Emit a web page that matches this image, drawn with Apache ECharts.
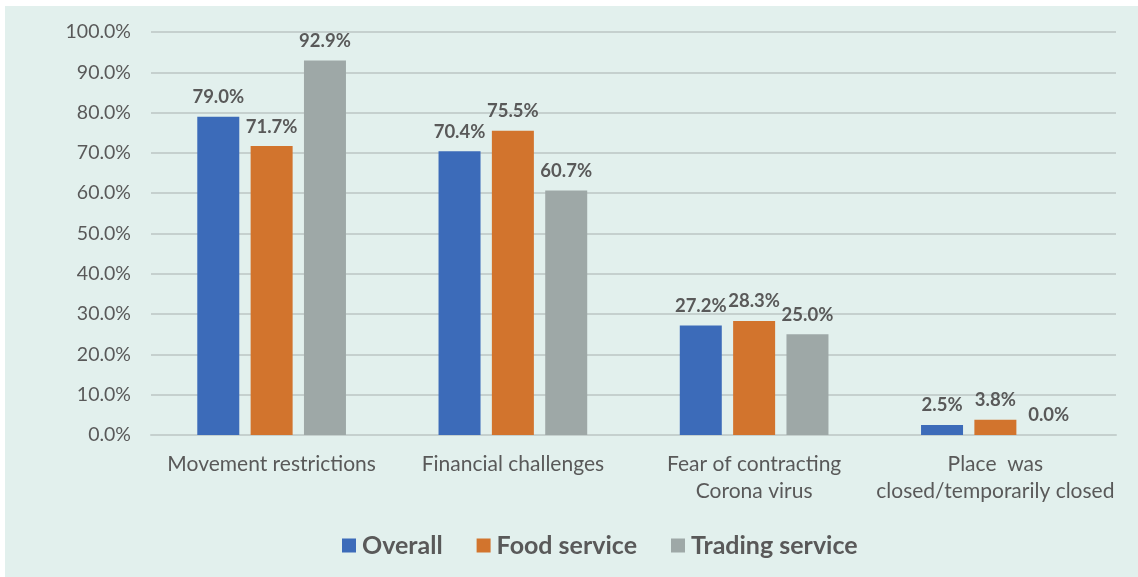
<!DOCTYPE html>
<html>
<head>
<meta charset="utf-8">
<script src="https://cdn.jsdelivr.net/npm/echarts@6/dist/echarts.min.js"></script>
<style>
  html, body { margin: 0; padding: 0; background: #ffffff; }
  #chart { position: absolute; left: 5px; top: 6px; width: 1133px; height: 571px; background: #e2f0ed; }
</style>
</head>
<body>
<div id="chart"></div>
<script>
const categories = [
  'Movement restrictions',
  'Financial challenges',
  'Fear of contracting\nCorona virus',
  'Place  was\nclosed/temporarily closed'
];
const overall = [79.0, 70.4, 27.2, 2.5];
const foodService = [71.7, 75.5, 28.3, 3.8];
const tradingService = [92.9, 60.7, 25.0, 0.0];
const seriesNames = ['Overall', 'Food service', 'Trading service'];
const colors = ['#3c6bb9', '#d2742d', '#9ea8a7'];

const font = 'Lato, "Noto Sans", sans-serif';
const textColor = '#595959';

const chart = echarts.init(document.getElementById('chart'));

function makeSeries(name, data, color) {
  return {
    name: name,
    type: 'bar',
    data: data,
    barWidth: 42,
    barGap: '27%',
    itemStyle: { color: color },
    label: {
      show: true,
      position: 'top',
      distance: 10,
      formatter: (p) => p.value.toFixed(1) + '%',
      color: textColor,
      fontWeight: 'bold',
      fontSize: 18.5,
      fontFamily: font
    }
  };
}

chart.setOption({
  animation: false,
  textStyle: { fontFamily: font },
  grid: { left: 146, right: 22, top: 26, bottom: 142 },
  legend: {
    bottom: 14,
    left: 332,
    itemWidth: 14,
    itemHeight: 14,
    itemGap: 34,
    icon: 'rect',
    textStyle: { color: textColor, fontSize: 25, fontWeight: 'bold', fontFamily: font, padding: [0, 0, 0, 1] },
    data: seriesNames
  },
  xAxis: {
    type: 'category',
    data: categories,
    axisLine: { show: true, lineStyle: { color: '#c5d0ce', width: 2 } },
    axisTick: { show: false },
    axisLabel: { color: textColor, fontSize: 21, fontFamily: font, margin: 16, lineHeight: 27, interval: 0 }
  },
  yAxis: {
    type: 'value',
    min: 0,
    max: 100,
    interval: 10,
    axisLine: { show: false },
    axisTick: { show: false },
    splitLine: { lineStyle: { color: '#c5d0ce', width: 2 } },
    axisLabel: {
      color: textColor,
      fontSize: 19.5,
      fontFamily: font,
      margin: 20,
      formatter: (v) => v.toFixed(1) + '%'
    }
  },
  series: [
    makeSeries(seriesNames[0], overall, colors[0]),
    makeSeries(seriesNames[1], foodService, colors[1]),
    makeSeries(seriesNames[2], tradingService, colors[2])
  ]
});
</script>
</body>
</html>
